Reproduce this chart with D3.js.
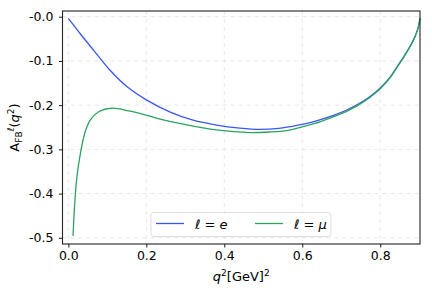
<!DOCTYPE html>
<html>
<head>
<meta charset="utf-8">
<title>A_FB vs q2</title>
<script src="https://cdn.jsdelivr.net/npm/d3@7"></script>
<style>
  body { margin: 0; background: #fff; }
  text { font-family: "DejaVu Sans", sans-serif; fill: #000; }
  .grid line { stroke: #e3e3e3; stroke-dasharray: 4,4; stroke-width: 0.9; }
</style>
</head>
<body>
<script>
// values
var q2E   = [0.0, 0.03, 0.064, 0.107, 0.15, 0.2, 0.26, 0.32, 0.38, 0.44, 0.49, 0.54, 0.59, 0.63, 0.68, 0.714, 0.76, 0.79, 0.8, 0.826, 0.845, 0.86, 0.875, 0.885, 0.893, 0.898, 0.902];
var afbE  = [-0.004, -0.038, -0.075, -0.121, -0.158, -0.188, -0.215, -0.234, -0.245, -0.252, -0.255, -0.2525, -0.245, -0.237, -0.223, -0.211, -0.189, -0.169, -0.161, -0.136, -0.111, -0.091, -0.069, -0.053, -0.036, -0.022, -0.003];

var q2Mu  = [0.012, 0.0164, 0.022, 0.031, 0.042, 0.056, 0.078, 0.112, 0.155, 0.197, 0.238, 0.295, 0.38, 0.466, 0.52, 0.56, 0.59, 0.63, 0.68, 0.714, 0.76, 0.79, 0.8, 0.826, 0.845, 0.86, 0.875, 0.885, 0.893, 0.898, 0.902];
var afbMu = [-0.496, -0.422, -0.362, -0.309, -0.264, -0.234, -0.215, -0.207, -0.213, -0.222, -0.232, -0.243, -0.256, -0.262, -0.2605, -0.2575, -0.2515, -0.242, -0.226, -0.214, -0.191, -0.171, -0.163, -0.137, -0.112, -0.092, -0.070, -0.054, -0.037, -0.023, -0.004];

var xTicks = [0.0, 0.2, 0.4, 0.6, 0.8];
var yTicks = [0.0, -0.1, -0.2, -0.3, -0.4, -0.5];

var width = 432, height = 293;
var mLeft = 62.5, mRight = 420, mTop = 11, mBottom = 244;

var x = d3.scaleLinear().domain([-0.015, 0.902]).range([mLeft, mRight]);
var y = d3.scaleLinear().domain([-0.514, 0.0129]).range([mBottom, mTop]);

var svg = d3.select("body").append("svg")
    .attr("width", width)
    .attr("height", height);

// grid
var grid = svg.append("g").attr("class", "grid");
grid.selectAll(".gx").data(xTicks).enter().append("line")
    .attr("x1", function (d) { return x(d); }).attr("x2", function (d) { return x(d); })
    .attr("y1", mTop).attr("y2", mBottom);
grid.selectAll(".gy").data(yTicks).enter().append("line")
    .attr("y1", function (d) { return y(d); }).attr("y2", function (d) { return y(d); })
    .attr("x1", mLeft).attr("x2", mRight);

var line = d3.line()
    .x(function (d) { return x(d[0]); })
    .y(function (d) { return y(d[1]); })
    .curve(d3.curveCatmullRom.alpha(0.5));

svg.append("path")
    .datum(d3.zip(q2E, afbE))
    .attr("d", line)
    .attr("fill", "none").attr("stroke", "#3a55f5").attr("stroke-width", 1.3);

svg.append("path")
    .datum(d3.zip(q2Mu, afbMu))
    .attr("d", line)
    .attr("fill", "none").attr("stroke", "#2ca25f").attr("stroke-width", 1.3);

// axes
var xAxis = svg.append("g")
    .attr("transform", "translate(0," + mBottom + ")")
    .call(d3.axisBottom(x).tickValues(xTicks).tickFormat(d3.format(".1f")).tickSize(3.5).tickPadding(4));
var yAxis = svg.append("g")
    .attr("transform", "translate(" + mLeft + ",0)")
    .call(d3.axisLeft(y).tickValues(yTicks)
        .tickFormat(function (d) { return "-" + Math.abs(d).toFixed(1); })
        .tickSize(3.5).tickPadding(5.5));
[xAxis, yAxis].forEach(function (a) {
    a.select(".domain").remove();
    a.selectAll("text").style("font-size", "12.5px").style("font-family", "DejaVu Sans").attr("fill", "#000");
    a.selectAll("line").attr("stroke", "#000").attr("stroke-width", 0.9);
});

// spines
svg.append("rect")
    .attr("x", mLeft).attr("y", mTop)
    .attr("width", mRight - mLeft).attr("height", mBottom - mTop)
    .attr("fill", "none").attr("stroke", "#222").attr("stroke-width", 1.1);

// legend
var lg = svg.append("g");
lg.append("rect")
    .attr("x", 151).attr("y", 212.5).attr("width", 180).attr("height", 24)
    .attr("rx", 3).attr("fill", "#fff").attr("fill-opacity", 0.8)
    .attr("stroke", "#d9d9d9").attr("stroke-width", 0.9);
var items = [
    { c: "#3a55f5", x: 156, sym: "e" },
    { c: "#2ca25f", x: 255, sym: "\u03bc" }
];
items.forEach(function (it) {
    lg.append("line")
        .attr("x1", it.x).attr("x2", it.x + 28)
        .attr("y1", 223.5).attr("y2", 223.5)
        .attr("stroke", it.c).attr("stroke-width", 1.3);
    var t = lg.append("text")
        .attr("x", it.x + 39).attr("y", 228.5)
        .style("font-size", "13px");
    t.append("tspan").style("font-style", "italic").text("\u2113");
    t.append("tspan").text(" = ");
    t.append("tspan").style("font-style", "italic").text(it.sym);
});

// x label
var xl = svg.append("text")
    .attr("x", (mLeft + mRight) / 2).attr("y", 281)
    .attr("text-anchor", "middle")
    .style("font-size", "13px");
xl.append("tspan").style("font-style", "italic").text("q");
xl.append("tspan").attr("dy", -5).style("font-size", "9px").text("2");
xl.append("tspan").attr("dy", 5).text("[GeV]");
xl.append("tspan").attr("dy", -5).style("font-size", "9px").text("2");

// y label
var yl = svg.append("text")
    .attr("transform", "translate(19," + ((mTop + mBottom) / 2) + ") rotate(-90)")
    .attr("text-anchor", "middle")
    .style("font-size", "13px");
yl.append("tspan").text("A");
yl.append("tspan").attr("dy", 3).style("font-size", "9px").text("FB");
yl.append("tspan").attr("dy", -8.5).style("font-size", "9.5px").style("font-style", "italic").text("\u2113");
yl.append("tspan").attr("dy", 5.5).text("(");
yl.append("tspan").style("font-style", "italic").text("q");
yl.append("tspan").attr("dy", -5).style("font-size", "9px").text("2");
yl.append("tspan").attr("dy", 5).text(")");
</script>
</body>
</html>
